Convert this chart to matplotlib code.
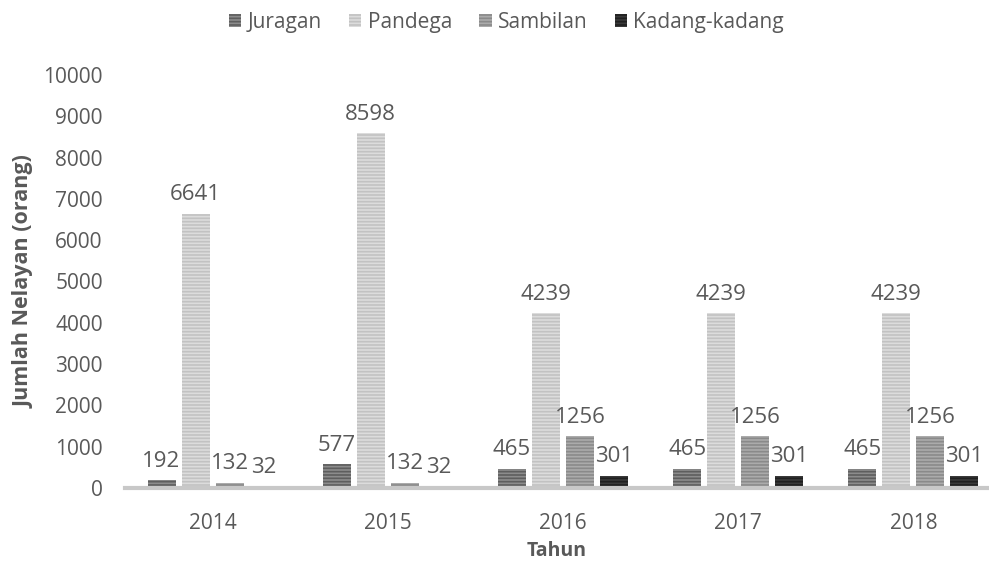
import numpy as np
import matplotlib
matplotlib.use("Agg")
import matplotlib.pyplot as plt

plt.rcParams['font.family'] = ['Open Sans', 'DejaVu Sans']
plt.rcParams['hatch.linewidth'] = 1.2

years = ["2014", "2015", "2016", "2017", "2018"]
series = ["Juragan", "Pandega", "Sambilan", "Kadang-kadang"]
juragan = [192, 577, 465, 465, 465]
pandega = [6641, 8598, 4239, 4239, 4239]
sambilan = [132, 132, 1256, 1256, 1256]
kadang = [32, 32, 301, 301, 301]
values = [juragan, pandega, sambilan, kadang]

faces = ["#8c8c8c", "#dcdcdc", "#ababab", "#3a3a3a"]
hatches = ["#5e5e5e", "#c2c2c2", "#8a8a8a", "#202020"]
text_c = "#595959"

fig = plt.figure(figsize=(9.89, 5.62), dpi=100)
ax = fig.add_axes([125 / 989, 1 - 488 / 562, 864 / 989, 413 / 562])

x = np.arange(len(years))
step = 34 / 175
width = 28 / 175
for i, (name, vals) in enumerate(zip(series, values)):
    pos = x + (i - 1.5) * step
    bars = ax.bar(pos, vals, width, color=faces[i], edgecolor=hatches[i],
                  linewidth=0, hatch="-----", label=name)
    for b, v in zip(bars, vals):
        ax.annotate(str(v), (b.get_x() + b.get_width() / 2, v),
                    xytext=(0, 6), textcoords="offset points",
                    ha="center", va="bottom", fontsize=16, color=text_c)

ax.set_ylim(0, 10000)
ax.set_xlim(-0.5, 4.5 - 12 / 175)
ax.set_yticks(np.arange(0, 10001, 1000))
ax.set_xticks(x)
ax.set_xticklabels(years)
ax.tick_params(axis="both", length=0, labelsize=15, colors=text_c)
ax.tick_params(axis="y", pad=16)
ax.tick_params(axis="x", pad=18)
for s in ["top", "right", "left"]:
    ax.spines[s].set_visible(False)
ax.spines["bottom"].set_color("#c8c8c8")
ax.spines["bottom"].set_linewidth(3)

ax.set_ylabel("Jumlah Nelayan (orang)", fontsize=15.5, fontweight="bold", color=text_c, labelpad=6)
ax.set_xlabel("Tahun", fontsize=14, fontweight="bold", color=text_c, labelpad=5)

fig.legend(loc="upper center", bbox_to_anchor=(0.512, 1.012), ncol=4, frameon=False,
           fontsize=15, labelcolor=text_c, handlelength=0.6, handleheight=0.6,
           handletextpad=0.3, columnspacing=1.3)

fig.savefig("out.png", dpi=100)
